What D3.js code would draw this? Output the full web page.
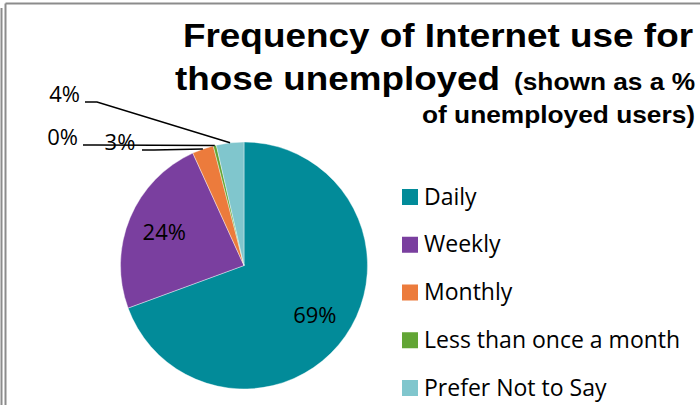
<!DOCTYPE html>
<html>
<head>
<meta charset="utf-8">
<script src="https://cdn.jsdelivr.net/npm/d3@7/dist/d3.min.js"></script>
<style>
  html, body { margin: 0; padding: 0; background: #fff; }
  svg { display: block; }
</style>
</head>
<body>
<svg id="chart" width="700" height="405"></svg>
<script>
// Frequency of Internet use among unemployed users (share of respondents, %)
const categories = ["Daily", "Weekly", "Monthly", "Less than once a month", "Prefer Not to Say"];
const shares = [69.4, 23.8, 2.8, 0.4, 3.6];
const colors = ["#028b99", "#7a3f9f", "#ec7b3c", "#62a535", "#80c6cd"];

const titleLines = ["Frequency of Internet use for", "those unemployed", "(shown as a %", "of unemployed users)"];

const W = 700, H = 405;
const cx = 244, cy = 265.5, R = 123.5;

const svg = d3.select("#chart");

// double frame on the left / top edge
const frame = svg.append("g").attr("stroke", "#8c8c8c").attr("fill", "none");
frame.append("line").attr("x1", 1.5).attr("x2", 1.5).attr("y1", 8).attr("y2", H).attr("stroke-width", 2);
frame.append("line").attr("x1", 5.5).attr("x2", 5.5).attr("y1", 3.5).attr("y2", H).attr("stroke-width", 2);
frame.append("line").attr("x1", 5.5).attr("x2", W).attr("y1", 3.5).attr("y2", 3.5).attr("stroke-width", 2);

// title (bold, slightly widened)
const titleFont = "'Liberation Sans', Arial, sans-serif";
const titleSpecs = [
  { x: 183, y: 47, size: 34, len: 510 },
  { x: 175, y: 90, size: 34, len: 325 },
  { x: 514, y: 90, size: 24, len: 181 },
  { x: 422, y: 123, size: 24, len: 273 }
];
svg.append("g").selectAll("text").data(titleLines).join("text")
  .attr("x", (d, i) => titleSpecs[i].x)
  .attr("y", (d, i) => titleSpecs[i].y)
  .attr("font-family", titleFont)
  .attr("font-weight", "bold")
  .attr("font-size", (d, i) => titleSpecs[i].size)
  .attr("textLength", (d, i) => titleSpecs[i].len)
  .attr("lengthAdjust", "spacingAndGlyphs")
  .attr("fill", "#000")
  .text(d => d);

// pie
const data = categories.map((c, i) => ({ name: c, value: shares[i], color: colors[i] }));
const total = d3.sum(shares);
const pie = d3.pie().sort(null).value(d => d.value);
const arcs = pie(data);
const arc = d3.arc().innerRadius(0).outerRadius(R);
const labelArc = d3.arc().innerRadius(R * 0.7).outerRadius(R * 0.7);

const g = svg.append("g").attr("transform", `translate(${cx},${cy})`);
g.selectAll("path").data(arcs).join("path")
  .attr("d", arc)
  .attr("fill", d => d.data.color)
  .attr("stroke", "#ffffff")
  .attr("stroke-width", 0.4);

const labelFont = "'Open Sans', 'Noto Sans', sans-serif";
const pct = d => Math.round(d.data.value / total * 100) + "%";

// large slices: labels inside
const inside = arcs.filter(d => d.data.value / total > 0.1);
g.selectAll("text.in").data(inside).join("text")
  .attr("class", "in")
  .attr("x", d => labelArc.centroid(d)[0])
  .attr("y", d => labelArc.centroid(d)[1] + 8)
  .attr("text-anchor", "middle")
  .attr("font-family", labelFont)
  .attr("font-size", 22)
  .attr("fill", "#000")
  .text(pct);

// small slices: labels outside with leader lines (placement per category)
const outsidePlacement = {
  "Monthly": { tx: 120, ty: 150, anchor: "middle", start: [142, 150] },
  "Less than once a month": { tx: 78, ty: 145, anchor: "end", start: [83, 145] },
  "Prefer Not to Say": { tx: 80, ty: 102, anchor: "end", start: [85, 102] }
};
const edgePoint = d => {
  const a = (d.startAngle + d.endAngle) / 2;
  return [cx + R * Math.sin(a), cy - R * Math.cos(a)];
};
const outside = arcs.filter(d => outsidePlacement[d.data.name]);
const lead = svg.append("g");
outside.forEach(d => {
  const p = outsidePlacement[d.data.name];
  const e = edgePoint(d);
  lead.append("path")
    .attr("d", d3.line()([p.start, [p.start[0] + 12, p.start[1]], e]))
    .attr("fill", "none")
    .attr("stroke", "#000")
    .attr("stroke-width", 1.4);
  lead.append("text")
    .attr("x", p.tx)
    .attr("y", p.ty)
    .attr("text-anchor", p.anchor)
    .attr("font-family", labelFont)
    .attr("font-size", 22)
    .attr("fill", "#000")
    .text(pct(d));
});

// legend
const legendY = d3.scalePoint().domain(categories).range([189, 380]);
const legend = svg.append("g");
legend.selectAll("rect").data(data).join("rect")
  .attr("x", 402)
  .attr("y", d => legendY(d.name))
  .attr("width", 16)
  .attr("height", 16)
  .attr("fill", d => d.color);
legend.selectAll("text").data(data).join("text")
  .attr("x", 424)
  .attr("y", d => legendY(d.name) + 15.5)
  .attr("font-family", labelFont)
  .attr("font-size", 23)
  .attr("fill", "#000")
  .text(d => d.name);
</script>
</body>
</html>
